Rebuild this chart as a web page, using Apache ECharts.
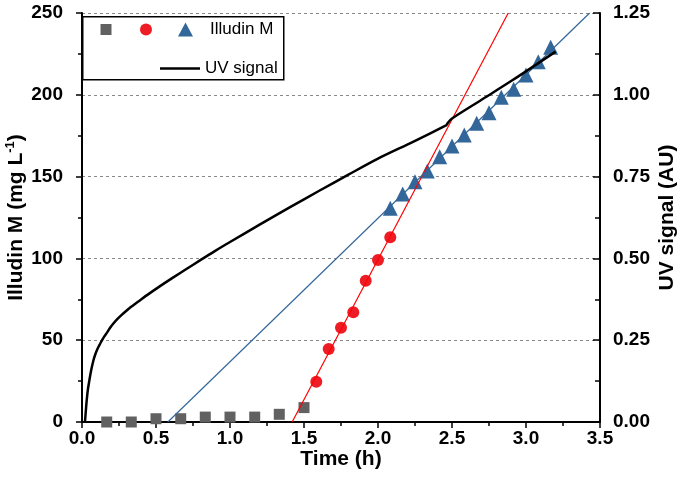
<!DOCTYPE html>
<html><head><meta charset="utf-8">
<script src="https://cdn.jsdelivr.net/npm/echarts@6/dist/echarts.min.js"></script>
<style>html,body{margin:0;padding:0;background:#fff}#c{width:685px;height:498px}</style>
</head><body><div id="c"></div>
<script>
// Phase 0 (grey squares)
const preTime = [0.167, 0.333, 0.5, 0.667, 0.833, 1.0, 1.167, 1.333, 1.5];
const preConc = [0, 0, 2, 2, 3, 3, 3, 4.7, 8.8];
// Phase 1 (red circles)
const p1Time = [1.583, 1.667, 1.75, 1.833, 1.917, 2.0, 2.083];
const p1Conc = [24.6, 44.6, 57.6, 67.1, 86.4, 99.0, 112.9];
// Phase 2 (blue triangles)
const p2Time = [2.083, 2.167, 2.25, 2.333, 2.417, 2.5, 2.583, 2.667, 2.75, 2.833, 2.917, 3.0, 3.083, 3.167];
const p2Conc = [130.6, 139.4, 146.9, 153.4, 162.2, 168.7, 175.4, 182.6, 189.1, 198.5, 203.4, 212.1, 220.2, 229.0];
// Linear fits (endpoints)
const redFitTime = [1.42, 2.88];
const redFitConc = [0, 250];
const blueFitTime = [0.58, 3.43];
const blueFitConc = [0, 250];
// UV signal (AU)
const uvTime = [0.02, 0.026, 0.032, 0.04, 0.05, 0.062, 0.077, 0.09, 0.105, 0.12, 0.133, 0.15, 0.17, 0.19, 0.212, 0.24, 0.27, 0.3, 0.324, 0.38, 0.437, 0.52, 0.617, 0.7, 0.797, 0.9, 1.0, 1.2, 1.4, 1.6, 1.8, 2.0, 2.24, 2.453, 2.462, 2.475, 2.498, 2.69, 2.91, 3.2];
const uvSignal = [0, 0.035, 0.067, 0.1, 0.128, 0.158, 0.188, 0.207, 0.224, 0.237, 0.248, 0.261, 0.274, 0.288, 0.301, 0.315, 0.328, 0.34, 0.349, 0.368, 0.387, 0.413, 0.442, 0.466, 0.494, 0.523, 0.55, 0.603, 0.655, 0.706, 0.756, 0.805, 0.857, 0.905, 0.907, 0.916, 0.927, 0.982, 1.045, 1.132];

const xTickLabels = ['0.0','0.5','1.0','1.5','2.0','2.5','3.0','3.5'];

const zip = (a, b) => a.map((v, i) => [v, b[i]]);
const FONT = 'Liberation Sans, Arial, sans-serif';
const chart = echarts.init(document.getElementById('c'), null, {renderer: 'canvas'});

const gray = '#616161', red = '#ee1c24', blue = '#336699';
const lbl = {fontFamily: FONT, fontSize: 19, fontWeight: 'bold', color: '#000'};
const ttl = {fontFamily: FONT, fontSize: 21, fontWeight: 'bold', color: '#000'};
const leg = {fontFamily: FONT, fontSize: 17, color: '#000'};

chart.setOption({
  animation: false,
  textStyle: {fontFamily: FONT},
  grid: {left: 82, right: 85, top: 13, bottom: 76, containLabel: false, outerBoundsMode: 'none'},
  xAxis: {
    type: 'value', min: 0, max: 3.5, interval: 0.5,
    name: 'Time (h)', nameLocation: 'middle', nameGap: 27, nameMoveOverlap: false,
    nameTextStyle: ttl,
    axisLine: {show: true, onZero: false, lineStyle: {color: '#000', width: 2}},
    axisTick: {show: true, length: 6, lineStyle: {color: '#000', width: 1.5}},
    minorTick: {show: true, splitNumber: 2, length: 4, lineStyle: {color: '#000', width: 1.5}},
    axisLabel: Object.assign({margin: 7, formatter: v => xTickLabels[Math.round(v / 0.5)]}, lbl),
    splitLine: {show: false}
  },
  yAxis: [{
    type: 'value', min: 0, max: 250, interval: 50,
    name: '{a|Illudin M (mg L}{s|-1}{a|)}', nameLocation: 'middle', nameGap: 54, nameRotate: 90,
    nameMoveOverlap: false,
    nameTextStyle: {rich: {
      a: Object.assign({lineHeight: 24}, ttl),
      s: {fontFamily: FONT, fontSize: 13, fontWeight: 'bold', color: '#000', verticalAlign: 'top', lineHeight: 24}
    }},
    axisLine: {show: true, lineStyle: {color: '#000', width: 2}},
    axisTick: {show: true, length: 6, lineStyle: {color: '#000', width: 1.5}},
    minorTick: {show: true, splitNumber: 2, length: 4, lineStyle: {color: '#000', width: 1.5}},
    axisLabel: Object.assign({margin: 19}, lbl),
    splitLine: {show: true, lineStyle: {color: '#888', type: [3, 3], width: 1}}
  }, {
    type: 'value', min: 0, max: 1.25, interval: 0.25, position: 'right',
    name: 'UV signal (AU)', nameLocation: 'middle', nameGap: 57, nameRotate: 90,
    nameMoveOverlap: false,
    nameTextStyle: ttl,
    axisLine: {show: true, lineStyle: {color: '#000', width: 2}},
    axisTick: {show: true, inside: true, length: 7, lineStyle: {color: '#000', width: 1.5}},
    minorTick: {show: true, splitNumber: 2, length: 5, lineStyle: {color: '#000', width: 1.5}},
    axisLabel: Object.assign({margin: 13, formatter: v => v.toFixed(2)}, lbl),
    splitLine: {show: false}
  }],
  legend: [
    {data: ['Illudin M (pre)'], left: 100.5, top: 21, padding: 0, icon: 'rect', itemWidth: 11, itemHeight: 11,
      formatter: () => ' ', textStyle: leg},
    {data: ['Illudin M (phase 1)'], left: 140, top: 21, padding: 0, icon: 'circle', itemWidth: 12, itemHeight: 12,
      formatter: () => ' ', textStyle: leg},
    {data: ['Illudin M'], left: 178, top: 21, padding: 0, icon: 'triangle', itemWidth: 15, itemHeight: 14,
      textStyle: Object.assign({padding: [0, 0, 0, 12]}, leg)},
    {data: ['UV signal'], left: 160, top: 60, padding: 0, icon: 'rect', itemWidth: 40, itemHeight: 2.5,
      textStyle: leg}
  ],
  graphic: [{
    type: 'rect', left: 82, top: 16, z: 0, zlevel: 0,
    shape: {width: 201, height: 63},
    style: {fill: '#fff', stroke: '#000', lineWidth: 1.5}
  }],
  series: [
    {name: 'Illudin M (pre)', type: 'scatter', symbol: 'rect', symbolSize: 11,
      itemStyle: {color: gray, opacity: 1}, data: zip(preTime, preConc), z: 3},
    {name: 'Illudin M (phase 1)', type: 'scatter', symbol: 'circle', symbolSize: 12,
      itemStyle: {color: red, opacity: 1}, data: zip(p1Time, p1Conc), z: 3},
    {name: 'Illudin M', type: 'scatter', symbol: 'triangle', symbolSize: 15,
      itemStyle: {color: blue, opacity: 1}, data: zip(p2Time, p2Conc), z: 3},
    {name: 'red fit', type: 'line', showSymbol: false, symbol: 'none', silent: true,
      lineStyle: {color: '#ff0000', width: 1.2}, data: zip(redFitTime, redFitConc), z: 4, clip: true},
    {name: 'blue fit', type: 'line', showSymbol: false, symbol: 'none', silent: true,
      lineStyle: {color: blue, width: 1.2}, data: zip(blueFitTime, blueFitConc), z: 4, clip: true},
    {name: 'UV signal', type: 'line', yAxisIndex: 1, showSymbol: false, symbol: 'none',
      itemStyle: {color: '#000'},
      lineStyle: {color: '#000', width: 2.5, join: 'round'}, data: zip(uvTime, uvSignal), z: 5,
      smooth: 0.3}
  ]
});
</script></body></html>
